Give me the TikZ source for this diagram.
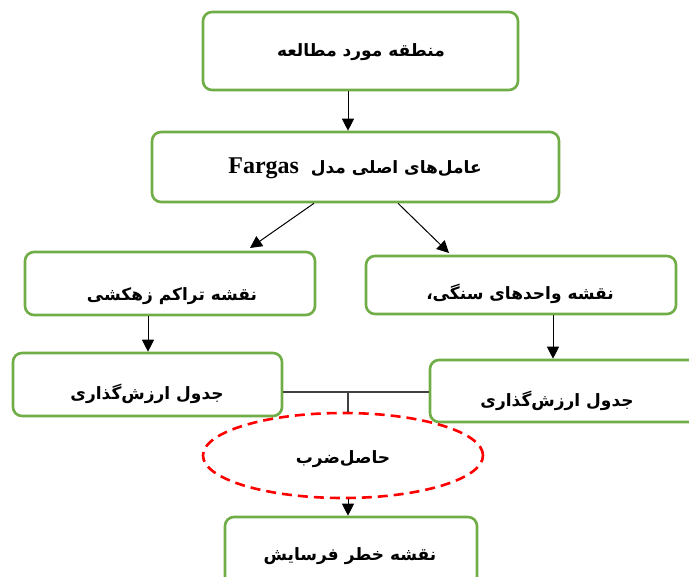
\documentclass[tikz,border=0pt]{standalone}
\usepackage{fontspec}
\usetikzlibrary{shapes.geometric,arrows.meta}
\TeXXeTstate=1
\newfontfamily\arabicfont[Script=Arabic]{DejaVu Sans}
\newfontfamily\latinserif{Liberation Serif}
\definecolor{boxgreen}{RGB}{112,173,71}
\begin{document}
\begin{tikzpicture}[x=1pt,y=-1pt,
  box/.style={draw=boxgreen, line width=2.6pt, rounded corners=9pt, inner sep=0pt},
  lbl/.style={font=\arabicfont\bfseries\fontsize{17}{19}\selectfont, inner sep=0pt},
  arr/.style={-{Triangle[length=12pt,width=12pt]}, line width=1pt, black},
  joinline/.style={line width=1.2pt, draw=black!75}
]
\useasboundingbox (0,0) rectangle (689,577);
\clip (0,0) rectangle (689,577);
% boxes
\node[box, minimum width=315pt, minimum height=78pt] (b1) at (360.5,51) {};
\node[box, minimum width=407pt, minimum height=70pt] (b2) at (355.5,167) {};
\node[box, minimum width=290pt, minimum height=63pt] (b3) at (170,283.5) {};
\node[box, minimum width=310pt, minimum height=58pt] (b4) at (521,285) {};
\node[box, minimum width=269pt, minimum height=63pt] (b5) at (147.5,384.5) {};
\node[box, minimum width=270pt, minimum height=62pt] (b6) at (565,391) {};
\node[draw=red, dashed, dash pattern=on 10pt off 6pt, line width=2.6pt, ellipse, minimum width=280pt, minimum height=85pt, inner sep=0pt] (el) at (343,455.5) {};
\node[box, minimum width=252pt, minimum height=78pt] (b7) at (351,556) {};
% labels
\node[lbl] (t1) at (361,52) {\beginR منطقه مورد مطالعه\endR};
\node[lbl] (t2) at (355,168) {\beginR عامل‌های اصلی مدل \ \beginL{\latinserif\bfseries\fontsize{24}{26}\selectfont Fargas}\endL\endR};
\node[lbl] (t3) at (172,296) {\beginR نقشه تراکم زهکشی\endR};
\node[lbl] (t4) at (520,294) {\beginR نقشه واحدهای سنگی،\endR};
\node[lbl] (t5) at (147,394) {\beginR جدول ارزش‌گذاری\endR};
\node[lbl] (t6) at (557,401) {\beginR جدول ارزش‌گذاری\endR};
\node[lbl] (t7) at (343,459) {\beginR حاصل‌ضرب\endR};
\node[lbl] (t8) at (350,556) {\beginR نقشه خطر فرسایش\endR};
% connector helpers
\coordinate (cx) at (348,0);
\coordinate (l3) at (148,0);
\coordinate (r4) at (553,0);
\coordinate (d1) at (314,0);
\coordinate (d2) at (398,0);
\coordinate (e1) at (250,248);
\coordinate (e2) at (449,253);
\coordinate (hl) at (348,392);
% arrows
\draw[arr] (cx |- b1.south) -- (cx |- b2.north);
\draw[arr] (d1 |- b2.south) -- (e1);
\draw[arr] (d2 |- b2.south) -- (e2);
\draw[arr] (l3 |- b3.south) -- (l3 |- b5.north);
\draw[arr] (r4 |- b4.south) -- (r4 |- b6.north);
\draw[joinline] (hl -| b5.east) -- (hl -| b6.west);
\draw[joinline] (hl) -- (hl |- el.north);
\draw[arr] (cx |- el.south) -- (cx |- b7.north);
\end{tikzpicture}
\end{document}
